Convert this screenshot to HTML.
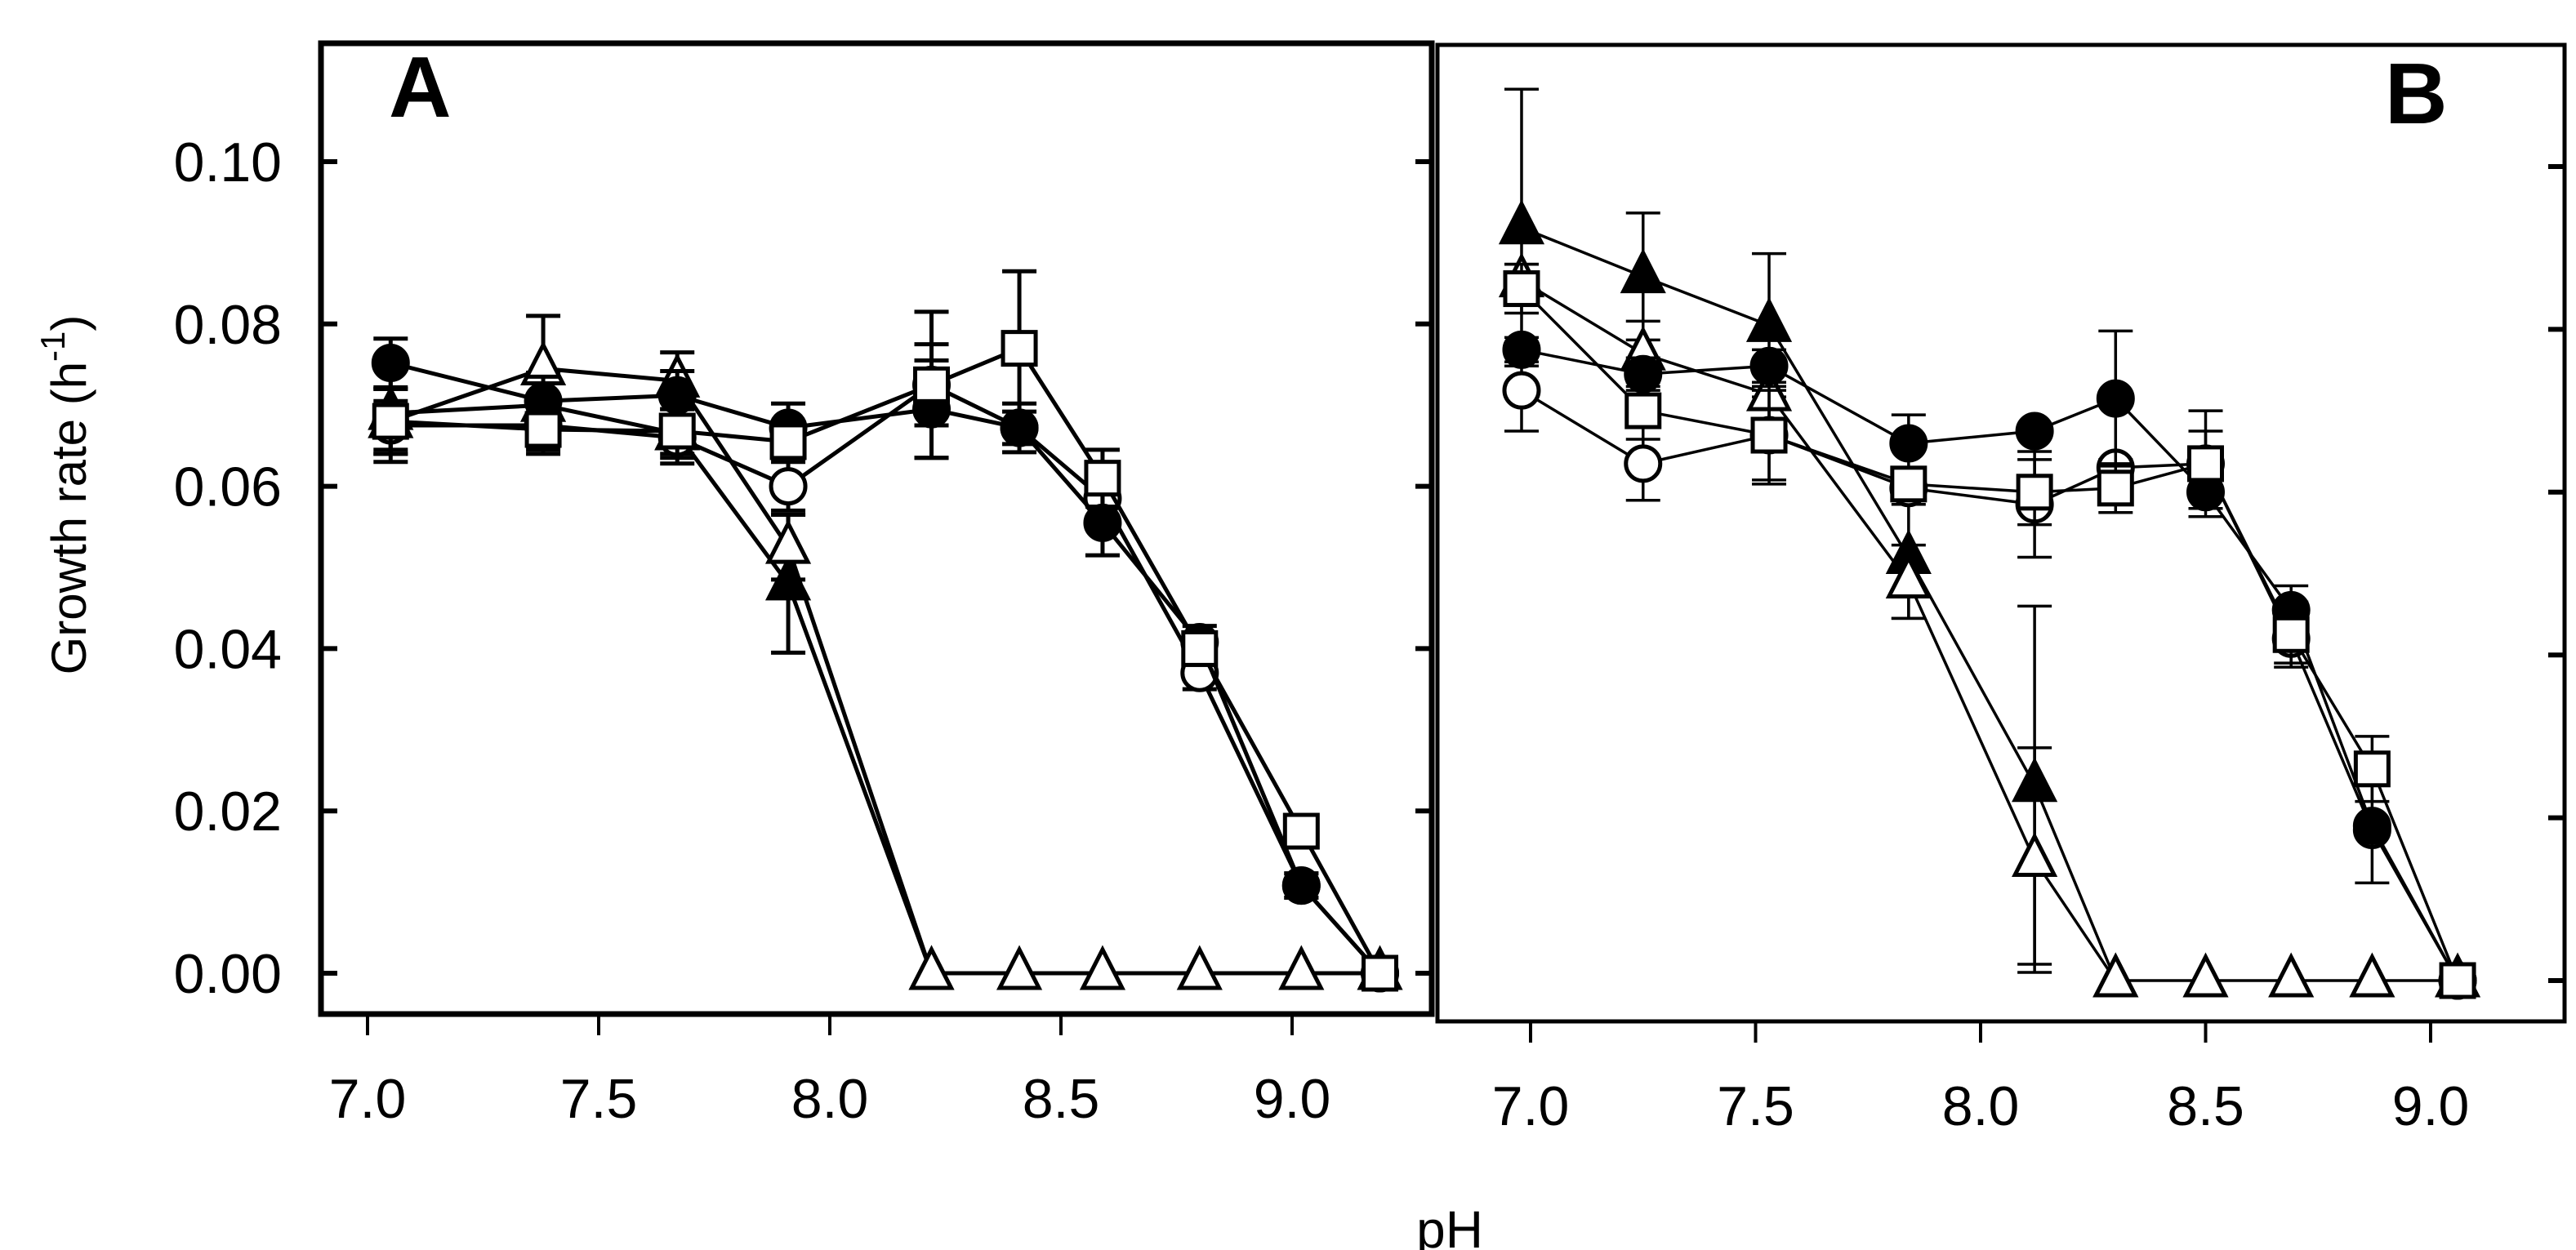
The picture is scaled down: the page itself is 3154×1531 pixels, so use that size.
<!DOCTYPE html>
<html><head><meta charset="utf-8">
<style>
html,body{margin:0;padding:0;background:#fff;}
svg{display:block;font-family:"Liberation Sans",Arial,sans-serif;}
</style></head>
<body>
<svg id="chart" width="3154" height="1531" viewBox="0 0 3154 1531" xmlns="http://www.w3.org/2000/svg">
<rect width="3154" height="1531" fill="#fff"/>
<text transform="translate(105,606) rotate(-90)" text-anchor="middle" font-size="60">Growth rate (h<tspan font-size="42" dy="-26">-1</tspan><tspan dy="26">)</tspan></text>
<text x="1775" y="1528" text-anchor="middle" font-size="64">pH</text>
<g id="panelA"></g>
<g id="panelB"></g>
</svg>
<script>
// ---- data ----
const yTicks = [0.00, 0.02, 0.04, 0.06, 0.08, 0.10];
const yTickLabels = ["0.00", "0.02", "0.04", "0.06", "0.08", "0.10"];
const xTicks = [7.0, 7.5, 8.0, 8.5, 9.0];
const xTickLabels = ["7.0", "7.5", "8.0", "8.5", "9.0"];

const phA = [7.05, 7.38, 7.67, 7.91, 8.22, 8.41, 8.59, 8.80, 9.02, 9.19];
const aFilledCircle = [0.0752, 0.0705, 0.0712, 0.0672, 0.0695, 0.0672, 0.0555, 0.0408, 0.0108, 0.0];
const aFilledCircleErr = [0.003, 0.003, 0.003, 0.003, 0.006, 0.002, 0.004, 0.002, 0.0015, 0];
const aOpenCircle = [0.0675, 0.0675, 0.0660, 0.0600, 0.0725, 0.0672, 0.0585, 0.0370, 0.0108, 0.0];
const aOpenCircleErr = [0.003, 0.003, 0.002, 0.003, 0.009, 0.003, 0.003, 0.002, 0.0015, 0];
const aFilledTri = [0.0690, 0.0700, 0.0665, 0.0480, 0.0];
const aFilledTriErr = [0.006, 0.004, 0.003, 0.0085, 0];
const aOpenTri = [0.0680, 0.0745, 0.0730, 0.0525, 0.0, 0.0, 0.0, 0.0, 0.0, 0.0];
const aOpenTriErr = [0.004, 0.0065, 0.0035, 0.004, 0, 0, 0, 0, 0, 0];
const aSquare = [0.0680, 0.0670, 0.0668, 0.0655, 0.0725, 0.0770, 0.0610, 0.0400, 0.0175, 0.0];
const aSquareErr = [0.004, 0.003, 0.004, 0.002, 0.005, 0.0095, 0.0035, 0.002, 0.0015, 0];

const phB = [6.98, 7.25, 7.53, 7.84, 8.12, 8.30, 8.50, 8.69, 8.87, 9.06];
const bFilledCircle = [0.0775, 0.0745, 0.0755, 0.0660, 0.0675, 0.0715, 0.0600, 0.0455, 0.0190, 0.0];
const bFilledCircleErr = [0.0015, 0.002, 0.002, 0.0035, 0.0, 0.0083, 0.002, 0.003, 0.0, 0];
const bOpenCircle = [0.0725, 0.0635, 0.0670, 0.0605, 0.0585, 0.0630, 0.0635, 0.0420, 0.0185, 0.0];
const bOpenCircleErr = [0.005, 0.0045, 0.006, 0.002, 0.0065, 0.001, 0.004, 0.003, 0.0065, 0];
const bFilledTri = [0.0925, 0.0865, 0.0805, 0.0520, 0.0240, 0.0];
const bFilledTriErr = [0.017, 0.0078, 0.0088, 0.0075, 0.022, 0];
const bOpenTri = [0.0860, 0.0770, 0.0720, 0.0490, 0.0148, 0.0, 0.0, 0.0, 0.0, 0.0];
const bOpenTriErr = [0.002, 0.004, 0.004, 0.0045, 0.0138, 0, 0, 0, 0, 0];
const bSquare = [0.0850, 0.0700, 0.0670, 0.0610, 0.0600, 0.0605, 0.0635, 0.0425, 0.0260, 0.0];
const bSquareErr = [0.003, 0.0035, 0.0055, 0.002, 0.004, 0.003, 0.0065, 0.004, 0.004, 0];

const NS = "http://www.w3.org/2000/svg";
function mk(tag, attrs, parent) {
  const e = document.createElementNS(NS, tag);
  for (const k in attrs) e.setAttribute(k, attrs[k]);
  parent.appendChild(e);
  return e;
}

function drawPanel(g, cfg) {
  const xs = v => cfg.x0 + (v - 7.0) * cfg.xPerUnit;
  const ys = v => cfg.y0 - v * cfg.yPerUnit;
  const frame = mk("rect", {x: cfg.left, y: cfg.top, width: cfg.right - cfg.left, height: cfg.bottom - cfg.top, fill: "none", stroke: "#000", "stroke-width": cfg.frameW}, g);
  
  
  yTicks.forEach((t, i) => {
    const y = ys(t);
    if (cfg.leftTicks) {
      const tk = mk("line", {x1: cfg.left, x2: cfg.left + 20, y1: y, y2: y, stroke: "#000", "stroke-width": 6}, g);
      
      
      const lb = mk("text", {x: cfg.left - 48, y: y + 24, "text-anchor": "end", "font-size": 68}, g);
      lb.textContent = yTickLabels[i];
      
      
    }
    const tr = mk("line", {x1: cfg.right - 20, x2: cfg.right, y1: y, y2: y, stroke: "#000", "stroke-width": 6}, g);
    
    
  });
  xTicks.forEach((t, i) => {
    const x = xs(t);
    const tk = mk("line", {x1: x, x2: x, y1: cfg.bottom, y2: cfg.bottom + 26, stroke: "#000", "stroke-width": 4}, g);
    
    
    const lb = mk("text", {x: x, y: cfg.bottom + 127, "text-anchor": "middle", "font-size": 68}, g);
    lb.textContent = xTickLabels[i];
    
    
  });
  const letter = mk("text", {x: cfg.letterX, y: cfg.letterY, "font-size": 106, "font-weight": "bold"}, g);
  letter.textContent = cfg.letter;
  
  

  const lw = cfg.lineW;
  cfg.series.forEach(s => {
    const sg = mk("g", {}, g);
    
    
    const pts = s.vals.map((v, i) => xs(cfg.ph[i]) + "," + ys(v)).join(" ");
    const pl = mk("polyline", {points: pts, fill: "none", stroke: "#000", "stroke-width": lw}, sg);
    
    
    s.vals.forEach((v, i) => {
      const e = s.err[i];
      if (!e) return;
      const x = xs(cfg.ph[i]);
      const eb = mk("path", {d: `M${x},${ys(v + e)}V${ys(v - e)}M${x - 21},${ys(v + e)}h42M${x - 21},${ys(v - e)}h42`, stroke: "#000", "stroke-width": lw, fill: "none"}, sg);
      
      
    });
    s.vals.forEach((v, i) => {
      const x = xs(cfg.ph[i]), y = ys(v);
      const fill = s.filled ? "#000" : "#fff";
      let m;
      if (s.shape === "circle") {
        m = mk("circle", {cx: x, cy: y, r: 21, fill: fill, stroke: "#000", "stroke-width": 5}, sg);
      } else if (s.shape === "tri") {
        m = mk("polygon", {points: `${x},${y - 29} ${x - 24},${y + 18} ${x + 24},${y + 18}`, fill: fill, stroke: "#000", "stroke-width": 5}, sg);
      } else {
        m = mk("rect", {x: x - 20, y: y - 20, width: 40, height: 40, fill: fill, stroke: "#000", "stroke-width": 5}, sg);
      }
      
      
    });
  });
}

drawPanel(document.getElementById("panelA"), {
  left: 393, right: 1753, top: 53, bottom: 1242, frameW: 7,
  x0: 450, xPerUnit: 566, y0: 1192, yPerUnit: 9940,
  leftTicks: true, lineW: 5, letter: "A", letterX: 476, letterY: 143, ph: phA,
  series: [
    {name: "series-a-filled-triangle", shape: "tri", filled: true, vals: aFilledTri, err: aFilledTriErr},
    {name: "series-a-open-triangle", shape: "tri", filled: false, vals: aOpenTri, err: aOpenTriErr},
    {name: "series-a-open-circle", shape: "circle", filled: false, vals: aOpenCircle, err: aOpenCircleErr},
    {name: "series-a-filled-circle", shape: "circle", filled: true, vals: aFilledCircle, err: aFilledCircleErr},
    {name: "series-a-square", shape: "square", filled: false, vals: aSquare, err: aSquareErr}
  ]
});
drawPanel(document.getElementById("panelB"), {
  left: 1760, right: 3140, top: 55, bottom: 1251, frameW: 5,
  x0: 1874, xPerUnit: 551, y0: 1201, yPerUnit: 9970,
  leftTicks: false, lineW: 3.5, letter: "B", letterX: 2920, letterY: 151, ph: phB,
  series: [
    {name: "series-b-filled-triangle", shape: "tri", filled: true, vals: bFilledTri, err: bFilledTriErr},
    {name: "series-b-open-triangle", shape: "tri", filled: false, vals: bOpenTri, err: bOpenTriErr},
    {name: "series-b-open-circle", shape: "circle", filled: false, vals: bOpenCircle, err: bOpenCircleErr},
    {name: "series-b-filled-circle", shape: "circle", filled: true, vals: bFilledCircle, err: bFilledCircleErr},
    {name: "series-b-square", shape: "square", filled: false, vals: bSquare, err: bSquareErr}
  ]
});
</script>
</body></html>
